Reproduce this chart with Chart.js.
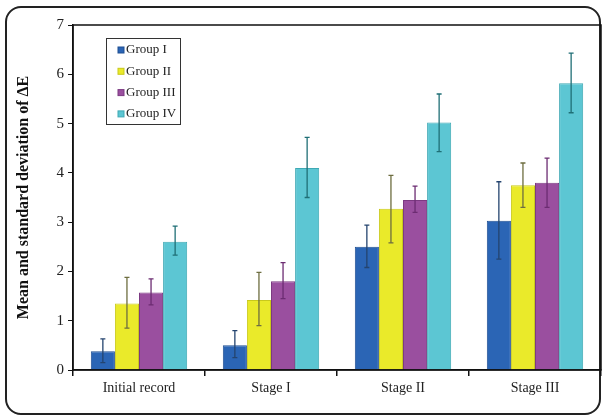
<!DOCTYPE html>
<html>
<head>
<meta charset="utf-8">
<script src="https://cdn.jsdelivr.net/npm/chart.js@4"></script>
<style>
  html, body { margin: 0; padding: 0; background: #fff; }
  #wrap { position: relative; width: 602px; height: 417px; overflow: hidden; }
  #frame {
    position: absolute; left: 5px; top: 6px; width: 596px; height: 409px;
    border: 2px solid #222; border-radius: 16px; box-sizing: border-box;
  }
  canvas { position: absolute; left: 0; top: 0; }
</style>
</head>
<body>
<div id="wrap">
  <div id="frame"></div>
  <canvas id="chart" width="602" height="417"></canvas>
</div>
<script>
const categories = ["Initial record", "Stage I", "Stage II", "Stage III"];
const groups = ["Group I", "Group II", "Group III", "Group IV"];
const group1 = [0.38, 0.5, 2.5, 3.03];
const group2 = [1.35, 1.42, 3.27, 3.75];
const group3 = [1.57, 1.8, 3.45, 3.8];
const group4 = [2.6, 4.1, 5.02, 5.82];
const group1Err = [[0.15, 0.63], [0.25, 0.8], [2.08, 2.94], [2.25, 3.82]];
const group2Err = [[0.85, 1.88], [0.9, 1.98], [2.58, 3.95], [3.3, 4.2]];
const group3Err = [[1.32, 1.85], [1.45, 2.18], [3.2, 3.73], [3.3, 4.3]];
const group4Err = [[2.33, 2.92], [3.5, 4.72], [4.43, 5.6], [5.22, 6.43]];
const yTicks = [0, 1, 2, 3, 4, 5, 6, 7];

const fills = ["#2b65b5", "#eaea2a", "#9a4f9f", "#5cc6d3"];
const edges = ["#1f4f92", "#c9c91c", "#7c3a82", "#3fa9b4"];
const errColors = ["#24446f", "#6e6e40", "#6c2c72", "#1f6f76"];
const errors = [group1Err, group2Err, group3Err, group4Err];

const serif = "'Liberation Serif', 'DejaVu Serif', serif";

const errorBars = {
  id: "errorBars",
  afterDatasetsDraw(chart) {
    const ctx = chart.ctx;
    const y = chart.scales.y;
    ctx.save();
    ctx.lineWidth = 1.3;
    chart.data.datasets.forEach((ds, i) => {
      const meta = chart.getDatasetMeta(i);
      meta.data.forEach((bar, j) => {
        const [lo, hi] = errors[i][j];
        const x = bar.x;
        const yl = y.getPixelForValue(lo);
        const yh = y.getPixelForValue(hi);
        ctx.strokeStyle = errColors[i];
        ctx.beginPath();
        ctx.moveTo(x, yl); ctx.lineTo(x, yh);
        ctx.moveTo(x - 2.5, yl); ctx.lineTo(x + 2.5, yl);
        ctx.moveTo(x - 2.5, yh); ctx.lineTo(x + 2.5, yh);
        ctx.stroke();
      });
    });
    ctx.restore();
  }
};

const boxAndLegend = {
  id: "boxAndLegend",
  afterDraw(chart) {
    const ctx = chart.ctx;
    const a = chart.chartArea;
    ctx.save();
    ctx.strokeStyle = "#111";
    ctx.lineWidth = 1.5;
    ctx.strokeRect(a.left, a.top, a.right - a.left, a.bottom - a.top);

    // legend box
    const lx = 106, ly = 38, lw = 74, lh = 86;
    ctx.fillStyle = "#fff";
    ctx.fillRect(lx, ly, lw, lh);
    ctx.strokeStyle = "#333";
    ctx.lineWidth = 1;
    ctx.strokeRect(lx + 0.5, ly + 0.5, lw, lh);
    ctx.font = "13px " + serif;
    ctx.textBaseline = "middle";
    chart.data.datasets.forEach((ds, i) => {
      const cy = ly + 12 + i * 21.3;
      ctx.fillStyle = fills[i];
      ctx.fillRect(lx + 12, cy - 3, 6, 6);
      ctx.strokeStyle = edges[i];
      ctx.strokeRect(lx + 12, cy - 3, 6, 6);
      ctx.fillStyle = "#222";
      ctx.fillText(ds.label, lx + 20, cy);
    });
    ctx.restore();
  }
};

const seriesValues = [group1, group2, group3, group4];

new Chart(document.getElementById("chart").getContext("2d"), {
  type: "bar",
  data: {
    labels: categories,
    datasets: groups.map((g, i) => ({
      label: g,
      data: seriesValues[i],
      backgroundColor: fills[i],
      borderColor: edges[i],
      borderWidth: 1,
      barPercentage: 1.0,
      categoryPercentage: 0.73,
    })),
  },
  options: {
    responsive: false,
    animation: false,
    layout: { padding: { top: 25, right: 1, left: 0, bottom: 0 } },
    plugins: {
      legend: { display: false },
      tooltip: { enabled: false },
    },
    scales: {
      x: {
        afterFit(scale) { scale.height = 47; },
        grid: {
          offset: true,
          drawOnChartArea: false,
          tickLength: 6,
          color: "#111",
          lineWidth: 1.5,
        },
        border: { display: true, color: "#111", width: 1.5 },
        ticks: { color: "#222", font: { family: serif, size: 14 }, padding: 4 },
      },
      y: {
        min: 0,
        max: 7,
        afterFit(scale) { scale.width = 73; },
        afterBuildTicks(scale) { scale.ticks = yTicks.map(v => ({ value: v })); },
        grid: { drawOnChartArea: false, tickLength: 5, color: "#111", lineWidth: 1 },
        border: { display: true, color: "#111", width: 1.5 },
        ticks: { color: "#222", font: { family: serif, size: 15 }, padding: 4 },
        title: {
          display: true,
          text: "Mean and standard deviation of ΔE",
          color: "#111",
          font: { family: serif, size: 16, weight: "bold" },
          padding: { top: 14, bottom: 0 },
        },
      },
    },
  },
  plugins: [errorBars, boxAndLegend],
});
</script>
</body>
</html>
